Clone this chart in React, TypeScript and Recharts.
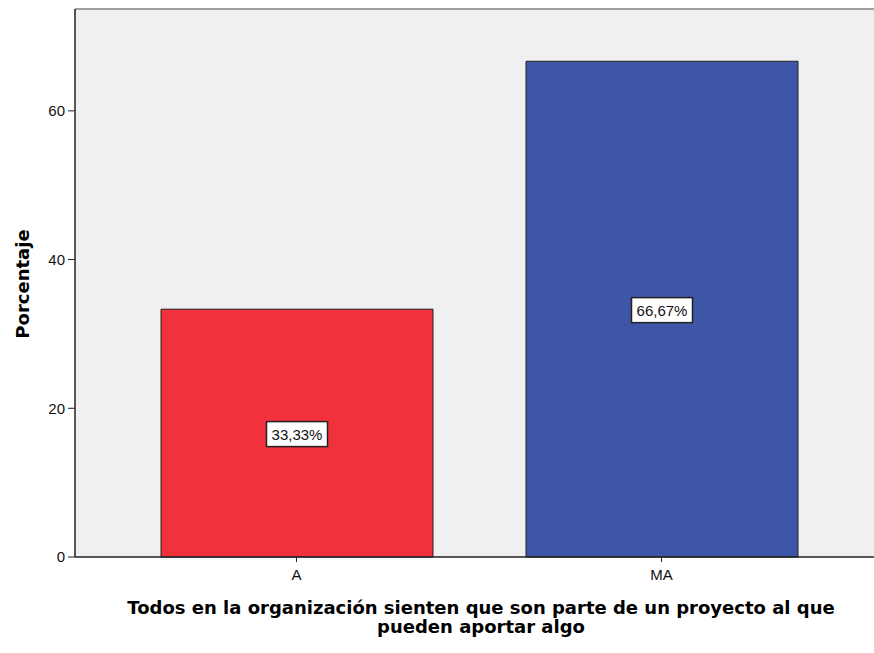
import React from 'react'
import {
  BarChart, Bar, XAxis, YAxis, CartesianGrid, ReferenceLine, LabelList, Cell,
} from 'recharts'

const categories = ['A', 'MA']
const percentages = [33.33, 66.67]
const pctLabels = ['33,33%', '66,67%']
const yTicks = [0, 20, 40, 60]
const yMax = 73.7

const barColors = ['#f1313b', '#3d56a8']

const data = categories.map((c, i) => ({ cat: c, pct: percentages[i], lbl: pctLabels[i] }))

function BoxLabel(props: any) {
  const { x, y, width, height, value } = props
  const cx = x + width / 2
  const cy = y + height / 2 + 1
  const w = 61
  const h = 25
  return (
    <g>
      <rect x={cx - w / 2} y={cy - h / 2} width={w} height={h} fill="#ffffff" stroke="#222" strokeWidth={1.5} />
      <text x={cx} y={cy} textAnchor="middle" dominantBaseline="central"
        style={{ fontFamily: 'Liberation Sans, Arial, sans-serif', fontSize: 15, fill: '#111' }}>
        {value}
      </text>
    </g>
  )
}

const tickStyle = { fontFamily: 'Liberation Sans, Arial, sans-serif', fontSize: 15, fill: '#111' }
const titleStyle = { fontFamily: 'DejaVu Sans, sans-serif', fontSize: 18, fontWeight: 700, fill: '#000' }

export default function App() {
  return (
    <div style={{ position: 'absolute', left: 0, top: 0, background: '#fff' }}>
      <BarChart
        width={874}
        height={653}
        data={data}
        margin={{ top: 9, right: 0, left: 0, bottom: 0 }}
      >
        <CartesianGrid fill="#f0f0f0" horizontal={false} vertical={false} />
        <ReferenceLine y={yMax} stroke="#a0a0a0" strokeWidth={2} />
        <XAxis
          dataKey="cat"
          height={96}
          padding={{ left: 39, right: 30 }}
          axisLine={{ stroke: '#222', strokeWidth: 1.5 }}
          tickLine={{ stroke: '#222' }}
          tickSize={5}
          tick={tickStyle}
          tickMargin={7}
          label={{
            content: () => (
              <text x={481} y={614} textAnchor="middle" style={titleStyle}>
                <tspan x={481} dy={0}>Todos en la organización sienten que son parte de un proyecto al que</tspan>
                <tspan x={481} dy={19}>pueden aportar algo</tspan>
              </text>
            ),
          }}
        />
        <YAxis
          width={75}
          domain={[0, yMax]}
          ticks={yTicks}
          axisLine={{ stroke: '#222', strokeWidth: 1.5 }}
          tickLine={{ stroke: '#222' }}
          tickSize={7}
          tickMargin={3}
          tick={tickStyle}
          label={{
            content: () => (
              <text x={22} y={284} transform="rotate(-90 22 284)" textAnchor="middle"
                dominantBaseline="central" style={titleStyle}>
                Porcentaje
              </text>
            ),
          }}
        />
        <Bar dataKey="pct" barSize={272} stroke="#222" strokeWidth={1} isAnimationActive={false}>
          {data.map((_, i) => (
            <Cell key={i} fill={barColors[i]} />
          ))}
          <LabelList dataKey="lbl" content={<BoxLabel />} />
        </Bar>
      </BarChart>
    </div>
  )
}
